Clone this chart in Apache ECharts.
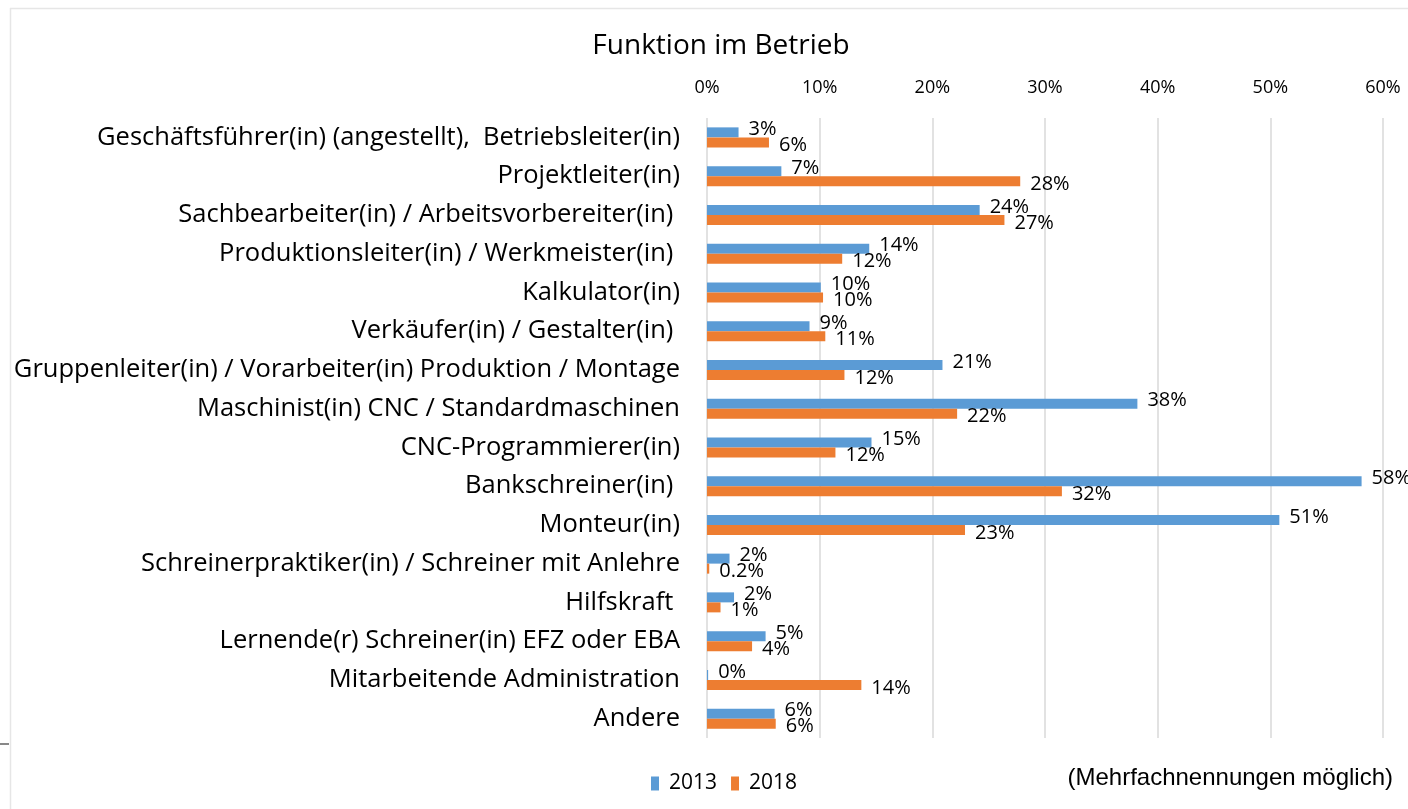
<!DOCTYPE html>
<html>
<head>
<meta charset="utf-8">
<title>Funktion im Betrieb</title>
<script src="https://cdn.jsdelivr.net/npm/echarts@6/dist/echarts.min.js"></script>
<style>
    html, body { margin: 0; padding: 0; background: #fff; }
    #chart { width: 1408px; height: 809px; }
</style>
</head>
<body>
<div id="chart"></div>
<script>
// Kategorien (von oben nach unten)
var categories = [
    'Geschäftsführer(in) (angestellt),  Betriebsleiter(in)',
    'Projektleiter(in)',
    'Sachbearbeiter(in) / Arbeitsvorbereiter(in) ',
    'Produktionsleiter(in) / Werkmeister(in) ',
    'Kalkulator(in)',
    'Verkäufer(in) / Gestalter(in) ',
    'Gruppenleiter(in) / Vorarbeiter(in) Produktion / Montage',
    'Maschinist(in) CNC / Standardmaschinen',
    'CNC-Programmierer(in)',
    'Bankschreiner(in) ',
    'Monteur(in)',
    'Schreinerpraktiker(in) / Schreiner mit Anlehre',
    'Hilfskraft ',
    'Lernende(r) Schreiner(in) EFZ oder EBA',
    'Mitarbeitende Administration',
    'Andere'
];
var values2013 = [2.8, 6.6, 24.2, 14.4, 10.1, 9.1, 20.9, 38.2, 14.6, 58.1, 50.8, 2.0, 2.4, 5.2, 0.1, 6.0];
var values2018 = [5.5, 27.8, 26.4, 12.0, 10.3, 10.5, 12.2, 22.2, 11.4, 31.5, 22.9, 0.2, 1.2, 4.0, 13.7, 6.1];
var labels2013 = ['3%', '7%', '24%', '14%', '10%', '9%', '21%', '38%', '15%', '58%', '51%', '2%', '2%', '5%', '0%', '6%'];
var labels2018 = ['6%', '28%', '27%', '12%', '10%', '11%', '12%', '22%', '12%', '32%', '23%', '0.2%', '1%', '4%', '14%', '6%'];
var xTicks = [0, 10, 20, 30, 40, 50, 60];

var font = '"Open Sans", "Noto Sans", sans-serif';

var myChart = echarts.init(document.getElementById('chart'));

var option = {
    backgroundColor: '#fff',
    animation: false,
    title: {
        text: 'Funktion im Betrieb',
        left: 716,
        top: 27,
        textAlign: 'center',
        textStyle: { fontFamily: font, fontSize: 28, fontWeight: 'normal', color: '#000' }
    },
    legend: {
        data: ['2013', '2018'],
        left: 646,
        top: 768,
        itemWidth: 8,
        itemHeight: 14,
        itemGap: 14,
        icon: 'rect',
        textStyle: { fontFamily: font, fontSize: 21, color: '#000', padding: [0, 0, 0, 5] }
    },
    grid: {
        left: 707,
        right: 25,
        top: 118,
        bottom: 71,
        containLabel: false
    },
    xAxis: {
        type: 'value',
        position: 'top',
        min: xTicks[0],
        max: xTicks[xTicks.length - 1],
        interval: 10,
        axisLine: { show: false },
        axisTick: { show: false },
        axisLabel: {
            margin: 21,
            formatter: '{value}%',
            fontFamily: font,
            fontSize: 18,
            color: '#000'
        },
        splitLine: { show: true, lineStyle: { color: '#d9d9d9', width: 1.5 } }
    },
    yAxis: {
        type: 'category',
        inverse: true,
        data: categories,
        axisLine: { show: false },
        axisTick: { show: false },
        axisLabel: {
            margin: 27,
            fontFamily: font,
            fontSize: 25.5,
            color: '#000'
        }
    },
    series: [{
        name: '2013',
        type: 'bar',
        data: values2013,
        barWidth: 10,
        barGap: '0%',
        itemStyle: { color: '#5b9bd5' },
        label: {
            show: true,
            position: 'right',
            distance: 10,
            offset: [0, -3],
            fontFamily: font,
            fontSize: 20,
            color: '#000',
            formatter: function (p) { return labels2013[p.dataIndex]; }
        }
    }, {
        name: '2018',
        type: 'bar',
        data: values2018,
        barWidth: 10,
        itemStyle: { color: '#ed7d31' },
        label: {
            show: true,
            position: 'right',
            distance: 10,
            offset: [0, 3],
            fontFamily: font,
            fontSize: 20,
            color: '#000',
            formatter: function (p) { return labels2018[p.dataIndex]; }
        }
    }],
    graphic: [
        { type: 'line', shape: { x1: 10, y1: 8.5, x2: 1408, y2: 8.5 }, style: { stroke: '#e6e6e6', lineWidth: 1.5 } },
        { type: 'line', shape: { x1: 10.5, y1: 8, x2: 10.5, y2: 809 }, style: { stroke: '#e6e6e6', lineWidth: 1.5 } },
        { type: 'line', shape: { x1: 0, y1: 744, x2: 9, y2: 744 }, style: { stroke: '#888', lineWidth: 2 } },
        {
            type: 'text',
            right: 15,
            top: 766,
            style: {
                text: '(Mehrfachnennungen möglich)',
                font: '24px "Liberation Sans", Arial, sans-serif',
                fill: '#000'
            }
        }
    ]
};

myChart.setOption(option);
</script>
</body>
</html>
